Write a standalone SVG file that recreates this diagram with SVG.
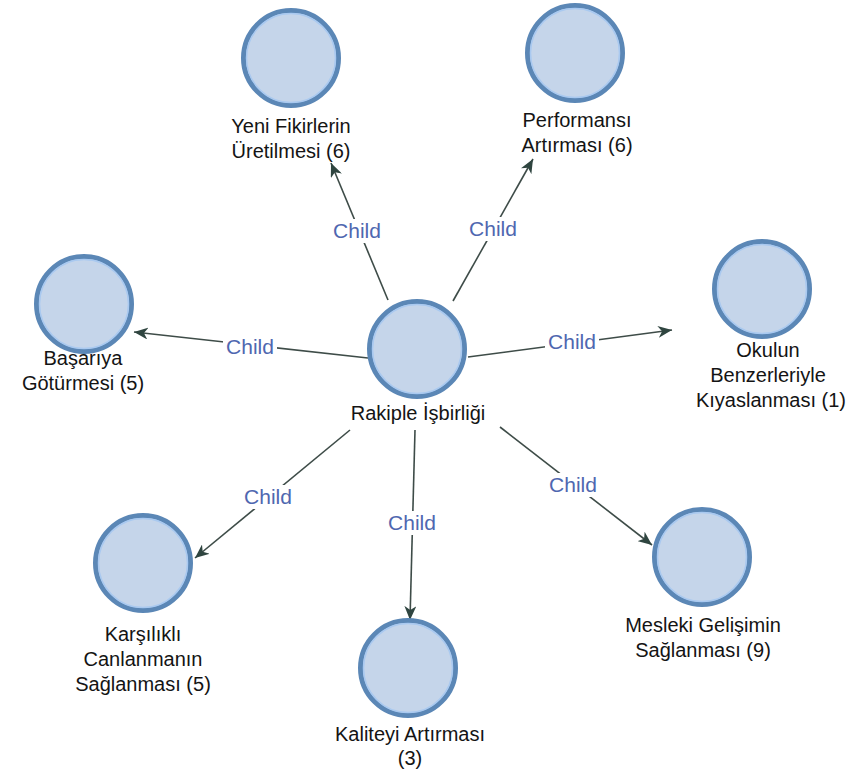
<svg xmlns="http://www.w3.org/2000/svg" width="852" height="776" viewBox="0 0 852 776">
<style>
.bg{fill:#ffffff}
.node circle.o{fill:#c5d5ea;stroke:#5b87b6;stroke-width:5}
.node circle.i{fill:none;stroke:#a9c9f0;stroke-width:1.5}
.node text{font-family:"Liberation Sans",Arial,sans-serif;font-size:20px;fill:#141414;text-anchor:middle}
.edge line{stroke:#3e4c48;stroke-width:1.6;fill:none}
.lbl rect{fill:#ffffff}
.lbl text{font-family:"Liberation Sans",Arial,sans-serif;font-size:21px;fill:#4f67b0;text-anchor:middle}
</style>
<defs>
<marker id="arr" markerUnits="userSpaceOnUse" markerWidth="16" markerHeight="12" refX="14" refY="6" orient="auto">
<path d="M0,0 L14,6 L0,12 L4,6 z" fill="#2f4540"/>
</marker>
</defs>
<rect class="bg" x="0" y="0" width="852" height="776"/>
<g id="connectors">
<g class="edge"><line x1="388" y1="300" x2="331" y2="163" marker-end="url(#arr)"/></g>
<g class="edge"><line x1="453" y1="301" x2="533" y2="159" marker-end="url(#arr)"/></g>
<g class="edge"><line x1="368" y1="358" x2="134" y2="332" marker-end="url(#arr)"/></g>
<g class="edge"><line x1="468" y1="357" x2="672" y2="330" marker-end="url(#arr)"/></g>
<g class="edge"><line x1="350" y1="430" x2="195" y2="558" marker-end="url(#arr)"/></g>
<g class="edge"><line x1="415" y1="430" x2="410" y2="620" marker-end="url(#arr)"/></g>
<g class="edge"><line x1="500" y1="427" x2="652" y2="545" marker-end="url(#arr)"/></g>
<g class="lbl"><rect x="330" y="219" width="54" height="24"/><text x="357" y="238">Child</text></g>
<g class="lbl"><rect x="466" y="217" width="54" height="24"/><text x="493" y="236">Child</text></g>
<g class="lbl"><rect x="223" y="335" width="54" height="24"/><text x="250" y="354">Child</text></g>
<g class="lbl"><rect x="545" y="330" width="54" height="24"/><text x="572" y="349">Child</text></g>
<g class="lbl"><rect x="241" y="485" width="54" height="24"/><text x="268" y="504">Child</text></g>
<g class="lbl"><rect x="385" y="511" width="54" height="24"/><text x="412" y="530">Child</text></g>
<g class="lbl"><rect x="546" y="473" width="54" height="24"/><text x="573" y="492">Child</text></g>
</g>
<g id="n-center" class="node"><circle class="o" cx="417" cy="349" r="47.5"/><circle class="i" cx="417" cy="349" r="44.5"/><text x="418" y="420">Rakiple İşbirliği</text></g>
<g id="n-yeni" class="node"><circle class="o" cx="291" cy="58" r="47.5"/><circle class="i" cx="291" cy="58" r="44.5"/><text x="291" y="133">Yeni Fikirlerin</text><text x="291" y="158">Üretilmesi (6)</text></g>
<g id="n-perf" class="node"><circle class="o" cx="575" cy="53" r="47.5"/><circle class="i" cx="575" cy="53" r="44.5"/><text x="577" y="127">Performansı</text><text x="577" y="152">Artırması (6)</text></g>
<g id="n-basari" class="node"><circle class="o" cx="84" cy="304" r="47.5"/><circle class="i" cx="84" cy="304" r="44.5"/><text x="83" y="365">Başarıya</text><text x="83" y="390">Götürmesi (5)</text></g>
<g id="n-okul" class="node"><circle class="o" cx="762" cy="289" r="47.5"/><circle class="i" cx="762" cy="289" r="44.5"/><text x="768" y="357">Okulun</text><text x="768" y="382">Benzerleriyle</text><text x="771" y="407">Kıyaslanması (1)</text></g>
<g id="n-karsi" class="node"><circle class="o" cx="143" cy="563" r="47.5"/><circle class="i" cx="143" cy="563" r="44.5"/><text x="143" y="641">Karşılıklı</text><text x="143" y="666">Canlanmanın</text><text x="143" y="691">Sağlanması (5)</text></g>
<g id="n-kalite" class="node"><circle class="o" cx="408" cy="668" r="47.5"/><circle class="i" cx="408" cy="668" r="44.5"/><text x="410" y="741">Kaliteyi Artırması</text><text x="410" y="765">(3)</text></g>
<g id="n-mesleki" class="node"><circle class="o" cx="702" cy="557" r="47.5"/><circle class="i" cx="702" cy="557" r="44.5"/><text x="703" y="632">Mesleki Gelişimin</text><text x="703" y="657">Sağlanması (9)</text></g>
</svg>
